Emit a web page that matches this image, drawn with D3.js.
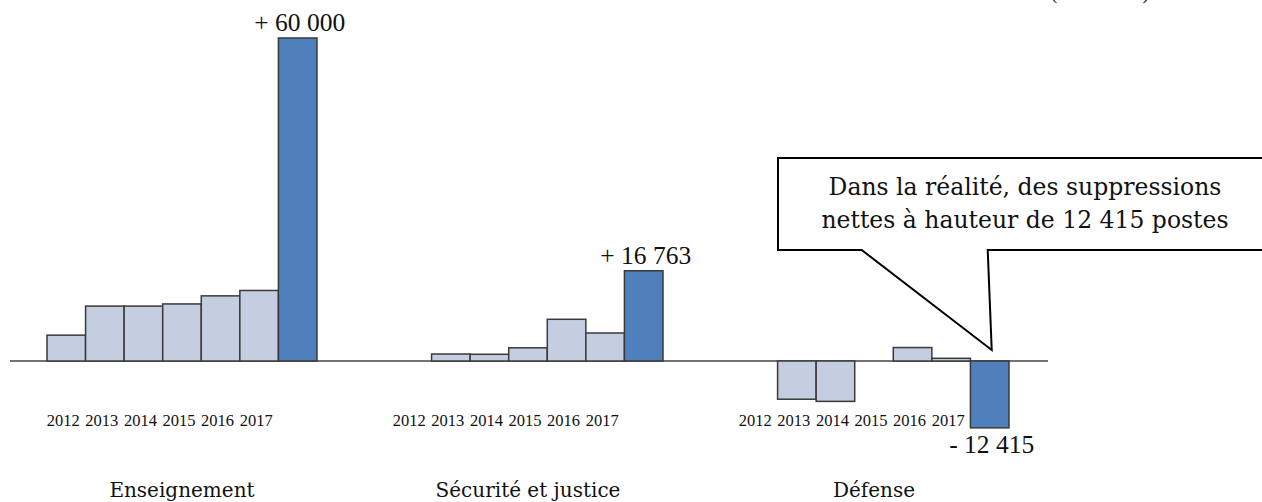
<!DOCTYPE html>
<html>
<head>
<meta charset="utf-8">
<script src="https://cdn.jsdelivr.net/npm/d3@7"></script>
<style>
  html, body { margin: 0; padding: 0; background: #fff; }
  svg { display: block; }
</style>
</head>
<body>
<svg id="chart" width="1262" height="502"></svg>
<script>
// ---- data ----
const groups = ["Enseignement", "Sécurité et justice", "Défense"];
const years = ["2012", "2013", "2014", "2015", "2016", "2017"];
const enseignement = [4800, 10200, 10200, 10600, 12100, 13100];
const securite = [0, 1300, 1250, 2450, 7750, 5200];
const defense = [0, -7100, -7500, 0, 2500, 500];
const totals = [60000, 16763, -12415];
const totalLabels = ["+ 60 000", "+ 16 763", "- 12 415"];
const calloutLines = ["Dans la réalité, des suppressions", "nettes à hauteur de 12 415 postes"];
const cornerNote = "(en nombre)";

const series = [enseignement, securite, defense];

// ---- scales ----
const svg = d3.select("#chart");
const x0 = d3.scaleBand().domain(groups).range([47, 1009]).paddingInner(0.2197).paddingOuter(0);
const x1 = d3.scaleBand().domain([...years, "total"]).range([0, x0.bandwidth()]).padding(0);
const y = d3.scaleLinear().domain([0, 60000]).range([361, 38]);

const numFont = "'Liberation Serif', 'Times New Roman', serif";
const wordFont = "'DejaVu Serif', serif";

// corner note (cut off at top, as in the reference)
svg.append("text").attr("x", 1100).attr("y", -1).attr("text-anchor", "middle")
  .attr("font-family", numFont).attr("font-size", 20).attr("fill", "#222").text(cornerNote);

// baseline
svg.append("line").attr("x1", 10).attr("x2", 1048).attr("y1", y(0)).attr("y2", y(0))
  .attr("stroke", "#444").attr("stroke-width", 1.5);

const rows = [];
groups.forEach((g, gi) => {
  years.forEach((yr, i) => rows.push({ g, key: yr, v: series[gi][i], total: false }));
  rows.push({ g, key: "total", v: totals[gi], total: true, label: totalLabels[gi] });
});

svg.append("g").selectAll("rect").data(rows.filter(d => d.v !== 0)).join("rect")
  .attr("x", d => x0(d.g) + x1(d.key))
  .attr("width", x1.bandwidth())
  .attr("y", d => Math.min(y(d.v), y(0)))
  .attr("height", d => Math.abs(y(d.v) - y(0)))
  .attr("fill", d => d.total ? "#4F80BC" : "#C4CEE0")
  .attr("stroke", "#3a3a3a").attr("stroke-width", 1.5);

// year labels
groups.forEach(g => {
  svg.append("g").selectAll("text").data(years).join("text")
    .attr("x", d => x0(g) + x1(d) + x1.bandwidth() / 2 - 3)
    .attr("y", 425.5)
    .attr("text-anchor", "middle")
    .attr("font-family", numFont).attr("font-size", 16.5).attr("fill", "#111")
    .text(d => d);
});

// total labels
svg.append("g").selectAll("text").data(rows.filter(d => d.total)).join("text")
  .attr("x", d => x0(d.g) + x1("total") + x1.bandwidth() / 2 + 2)
  .attr("y", d => d.v >= 0 ? y(d.v) - 7 : y(d.v) + 25)
  .attr("text-anchor", "middle")
  .attr("font-family", numFont).attr("font-size", 25.5).attr("fill", "#111")
  .text(d => d.label);

// group labels
svg.append("g").selectAll("text").data(groups).join("text")
  .attr("x", d => x0(d) + x0.bandwidth() / 2)
  .attr("y", 497)
  .attr("text-anchor", "middle")
  .attr("font-family", wordFont).attr("font-size", 20).attr("fill", "#111")
  .text(d => d);

// callout pointing at the Défense total bar
const tipX = x0("Défense") + x1("total") + x1.bandwidth() / 2 + 2;
const tipY = y(0) - 11;
const bx0 = 778, bx1 = 1272, by0 = 158, by1 = 250;
const p = d3.path();
p.moveTo(bx0, by0); p.lineTo(bx1, by0); p.lineTo(bx1, by1);
p.lineTo(tipX - 4, by1); p.lineTo(tipX, tipY); p.lineTo(861.7, by1);
p.lineTo(bx0, by1); p.closePath();
svg.append("path").attr("d", p.toString()).attr("fill", "#fff").attr("stroke", "#000").attr("stroke-width", 2);

svg.append("g").selectAll("text").data(calloutLines).join("text")
  .attr("x", 1025).attr("y", (d, i) => 195 + i * 33)
  .attr("text-anchor", "middle")
  .attr("font-family", wordFont).attr("font-size", 23.5).attr("fill", "#111")
  .text(d => d);
</script>
</body>
</html>
